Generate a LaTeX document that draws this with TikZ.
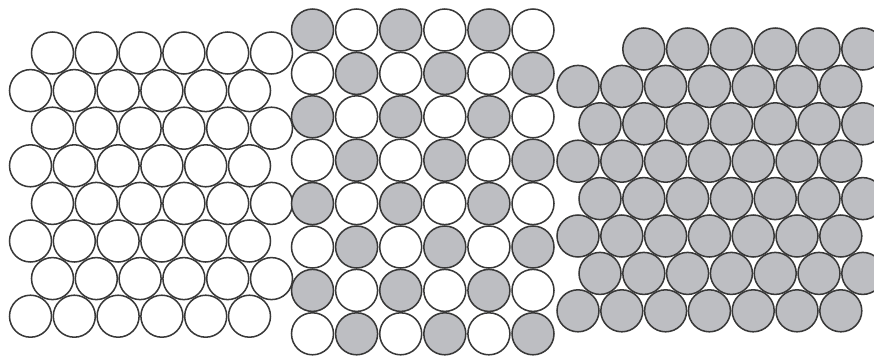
\documentclass[tikz,border=0pt]{standalone}
\usepackage{tikz}
\usepackage{xcolor}
\definecolor{ballGray}{HTML}{BDBEC2}
\definecolor{ballEdge}{HTML}{383838}

\begin{document}
\begin{tikzpicture}[x=0.03cm, y=-0.03cm,
  ball/.style={draw=ballEdge, line width=1.3pt},
  ballWhite/.style={ball, fill=white},
  ballDark/.style={ball, fill=ballGray}]
  \useasboundingbox (0,0) rectangle (874,359);
  \clip (0,0) rectangle (874,359);
  % hexagonal packing, white
  \foreach \r in {0,...,7} {
    \pgfmathsetmacro{\xs}{isodd(\r) ? 30.5 : 52.5}
    \foreach \c in {0,...,5}
      \filldraw[ballWhite] ({\xs+43.8*\c},{53+37.6*\r}) circle [radius=0.63cm];
  }
  % square packing, checkerboard
  \foreach \r in {0,...,7} {
    \foreach \c in {0,...,5} {
      \pgfmathtruncatemacro{\k}{mod(\r+\c,2)}
      \ifnum\k=0
        \filldraw[ballDark] ({312.5+44.1*\c},{30+43.4*\r}) circle [radius=0.63cm];
      \else
        \filldraw[ballWhite] ({312.5+44.1*\c},{30+43.4*\r}) circle [radius=0.63cm];
      \fi
    }
  }
  % hexagonal packing, gray
  \foreach \r in {0,...,7} {
    \pgfmathsetmacro{\xs}{isodd(\r) ? 578 : 600}
    \pgfmathtruncatemacro{\cs}{\r==0 ? 1 : 0}
    \foreach \c in {\cs,...,6}
      \filldraw[ballDark] ({\xs+43.8*\c},{49+37.4*\r}) circle [radius=0.63cm];
  }
\end{tikzpicture}
\end{document}
